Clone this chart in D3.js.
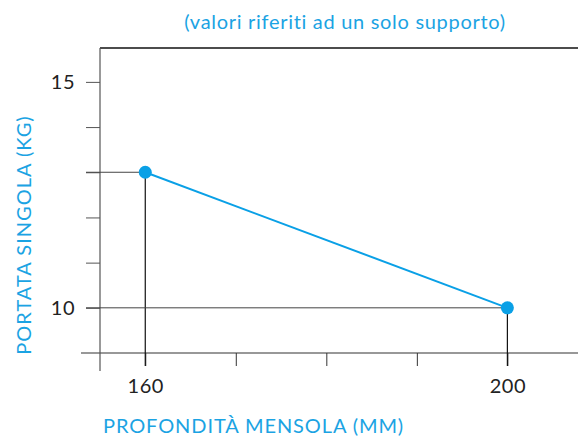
<!DOCTYPE html>
<html lang="it">
  <head>
    <meta charset="utf-8">
    <title>Portata</title>
    <script src="https://d3js.org/d3.v7.min.js"></script>
    <style>
      body { margin: 0; background: #fff; }
      text { font-family: Lato, "DejaVu Sans", sans-serif; }
      .blue { fill: #1ba3e3; }
      .tick text { font-size: 20px; fill: #222; letter-spacing: 0.5px; }
    </style>
  </head>
  <body>
    <svg id="chart" width="578" height="436"></svg>
    <script>
      // data
      let depths = [160, 200];
      let loads = [13, 10];
      let xTickValues = [160, 170, 180, 190, 200];
      let xTickLabels = ['160', '', '', '', '200'];
      let yTickValues = [10, 11, 12, 13, 14, 15];
      let yTickLabels = ['10', '', '', '', '', '15'];
      let title = '(valori riferiti ad un solo supporto)';
      let xTitle = 'PROFONDITÀ MENSOLA (MM)';
      let yTitle = 'PORTATA SINGOLA (KG)';

      let svg = d3.select('#chart');
      let x = d3.scaleLinear().domain([155, 207.8]).range([100, 578]);
      let y = d3.scaleLinear().domain([9, 15.75]).range([353, 48]);

      // top border
      svg.append('line')
        .attr('x1', 100).attr('x2', 578)
        .attr('y1', y(15.75)).attr('y2', y(15.75))
        .attr('stroke', '#111').attr('stroke-width', 1.5);

      // x axis
      let xAxis = d3.axisBottom(x)
        .tickValues(xTickValues)
        .tickSize(13)
        .tickPadding(13)
        .tickFormat(function(d, i) { return xTickLabels[i]; });
      let gx = svg.append('g').attr('transform', 'translate(0,' + y(9) + ')').call(xAxis);
      gx.select('.domain').remove();
      gx.selectAll('.tick line').attr('stroke', '#333');
      svg.append('line')
        .attr('x1', 81).attr('x2', 578)
        .attr('y1', y(9)).attr('y2', y(9))
        .attr('stroke', '#333').attr('stroke-width', 1.2);

      // y axis
      let yAxis = d3.axisLeft(y)
        .tickValues(yTickValues)
        .tickSize(14)
        .tickPadding(11)
        .tickFormat(function(d, i) { return yTickLabels[i]; });
      let gy = svg.append('g').attr('transform', 'translate(100,0)').call(yAxis);
      gy.select('.domain').remove();
      gy.selectAll('.tick line').attr('stroke', '#555');
      svg.append('line')
        .attr('x1', 100).attr('x2', 100)
        .attr('y1', y(15.75)).attr('y2', 371)
        .attr('stroke', '#555').attr('stroke-width', 1.2);

      // guide lines to the points
      depths.forEach(function(d, i) {
        svg.append('line')
          .attr('x1', 86).attr('x2', x(d))
          .attr('y1', y(loads[i])).attr('y2', y(loads[i]))
          .attr('stroke', '#444').attr('stroke-width', 1);
        svg.append('line')
          .attr('x1', x(d)).attr('x2', x(d))
          .attr('y1', y(loads[i])).attr('y2', y(9) + 13)
          .attr('stroke', '#111').attr('stroke-width', 1.2);
      });

      // line + points
      let line = d3.line()
        .x(function(d, i) { return x(d); })
        .y(function(d, i) { return y(loads[i]); });
      svg.append('path')
        .attr('d', line(depths))
        .attr('fill', 'none')
        .attr('stroke', '#0aa0e6')
        .attr('stroke-width', 2);
      svg.selectAll('circle')
        .data(depths)
        .join('circle')
        .attr('cx', function(d) { return x(d); })
        .attr('cy', function(d, i) { return y(loads[i]); })
        .attr('r', 6.5)
        .attr('fill', '#0aa0e6');

      // titles
      svg.append('text')
        .attr('class', 'blue')
        .attr('x', 345).attr('y', 29)
        .attr('text-anchor', 'middle')
        .attr('font-size', 20)
        .attr('letter-spacing', 0.7)
        .text(title);
      svg.append('text')
        .attr('class', 'blue')
        .attr('x', 103).attr('y', 433)
        .attr('font-size', 20)
        .attr('letter-spacing', 0.9)
        .text(xTitle);
      svg.append('text')
        .attr('class', 'blue')
        .attr('transform', 'translate(31,235) rotate(-90)')
        .attr('text-anchor', 'middle')
        .attr('font-size', 20)
        .attr('letter-spacing', 1)
        .text(yTitle);
    </script>
  </body>
</html>
